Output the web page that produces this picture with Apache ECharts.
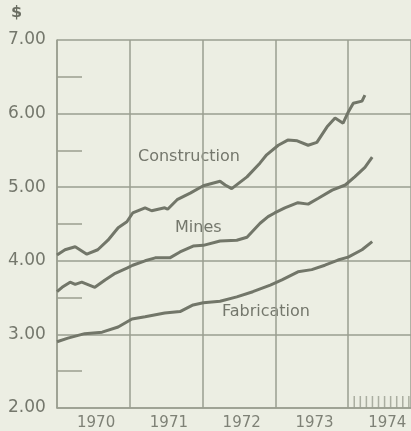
<!DOCTYPE html>
<html><head><meta charset="utf-8">
<script src="https://cdn.jsdelivr.net/npm/echarts@6/dist/echarts.min.js"></script>
<style>html,body{margin:0;padding:0;background:#eceee3;}#c{width:411px;height:431px;}</style>
</head><body><div id="c"></div>
<script>
// Decimal-year positions and hourly earnings ($)
const constructionT = [1970.00,1970.11,1970.25,1970.41,1970.56,1970.70,1970.84,1970.96,1971.04,1971.21,1971.30,1971.48,1971.52,1971.65,1971.83,1972.01,1972.24,1972.31,1972.40,1972.61,1972.79,1972.88,1973.04,1973.17,1973.30,1973.45,1973.57,1973.71,1973.82,1973.93,1974.00,1974.07,1974.19,1974.23];
const constructionV = [4.08,4.15,4.19,4.09,4.15,4.28,4.45,4.53,4.65,4.72,4.68,4.72,4.70,4.83,4.92,5.02,5.08,5.03,4.98,5.14,5.33,5.44,5.57,5.64,5.63,5.57,5.61,5.82,5.94,5.87,6.02,6.14,6.17,6.25];
const minesT = [1970.00,1970.07,1970.18,1970.25,1970.34,1970.52,1970.66,1970.80,1970.96,1971.04,1971.21,1971.35,1971.55,1971.69,1971.87,1972.01,1972.24,1972.47,1972.61,1972.79,1972.90,1972.99,1973.13,1973.31,1973.45,1973.59,1973.78,1973.96,1974.09,1974.23,1974.33];
const minesV = [3.58,3.64,3.71,3.68,3.71,3.64,3.74,3.83,3.90,3.94,4.00,4.04,4.04,4.12,4.20,4.21,4.27,4.28,4.32,4.51,4.60,4.65,4.72,4.79,4.77,4.85,4.96,5.03,5.14,5.27,5.41];
const fabricationT = [1970.00,1970.15,1970.38,1970.62,1970.84,1971.03,1971.21,1971.48,1971.69,1971.87,1972.01,1972.24,1972.47,1972.69,1972.93,1973.09,1973.31,1973.50,1973.68,1973.86,1974.00,1974.19,1974.33];
const fabricationV = [2.90,2.95,3.01,3.03,3.10,3.21,3.24,3.29,3.31,3.40,3.43,3.45,3.51,3.58,3.67,3.74,3.85,3.88,3.94,4.01,4.05,4.15,4.26];
const monthMarks1974 = [1974+1/12,1974+2/12,1974+3/12,1974+4/12,1974+5/12,1974+6/12,1974+7/12,1974+8/12,1974+9/12,1974+10/12];
const yearTicks = [1970,1971,1972,1973,1974];
const seriesNames = ['Construction','Mines','Fabrication'];

const zip = (t,v)=>t.map((x,i)=>[x,v[i]]);
const lineCol = '#727669', gridCol = '#9a9e90', textCol = '#74776c';
const chart = echarts.init(document.getElementById('c'));
const lineSeries = (name, data) => ({name, type:'line', data, showSymbol:false, smooth:false,
  lineStyle:{color:lineCol, width:3}, z:3});
chart.setOption({
  backgroundColor:'#eceee3',
  animation:false,
  title:{text:'$', left:6, top:0, textStyle:{fontFamily:'DejaVu Sans', fontSize:16, fontWeight:'bold', color:'#6a6d62'}},
  grid:{left:57, right:0, top:40, bottom:23, containLabel:false},
  xAxis:{type:'value', min:1970, max:1974.863, interval:1,
    axisLine:{show:true, lineStyle:{color:gridCol, width:1.5}},
    axisTick:{show:false},
    splitLine:{show:true, lineStyle:{color:gridCol, width:1.5}},
    axisLabel:{showMaxLabel:false, align:'left', padding:[0,0,0,20], margin:8,
      fontFamily:'DejaVu Sans', fontSize:15, color:'#7e8176',
      formatter:v=> yearTicks.includes(Math.round(v*1000)/1000) ? String(Math.round(v)) : ''}
  },
  yAxis:{type:'value', min:2, max:7, interval:1,
    axisLine:{show:true, lineStyle:{color:gridCol, width:1.5}},
    axisTick:{show:false, inside:true, length:25},
    minorTick:{show:true, splitNumber:2, length:25, lineStyle:{color:gridCol, width:1.5}},
    splitLine:{show:true, lineStyle:{color:gridCol, width:1.5}},
    axisLabel:{align:'left', margin:49, fontFamily:'DejaVu Sans', fontSize:17, color:textCol,
      formatter:v=>v.toFixed(2)}
  },
  series:[
    lineSeries(seriesNames[0], zip(constructionT, constructionV)),
    lineSeries(seriesNames[1], zip(minesT, minesV)),
    lineSeries(seriesNames[2], zip(fabricationT, fabricationV)),
    {type:'scatter', data:monthMarks1974.map(x=>[x,2]), symbol:'rect', symbolSize:[1.5,12],
      symbolOffset:[0,-6], itemStyle:{color:gridCol}, silent:true, z:2}
  ],
  graphic:[
    {type:'text', left:138, top:149, style:{text:seriesNames[0], font:'16px "DejaVu Sans"', fill:textCol}},
    {type:'text', left:175, top:220, style:{text:seriesNames[1], font:'16px "DejaVu Sans"', fill:textCol}},
    {type:'text', left:222, top:304, style:{text:seriesNames[2], font:'16px "DejaVu Sans"', fill:textCol}}
  ]
});
</script></body></html>
